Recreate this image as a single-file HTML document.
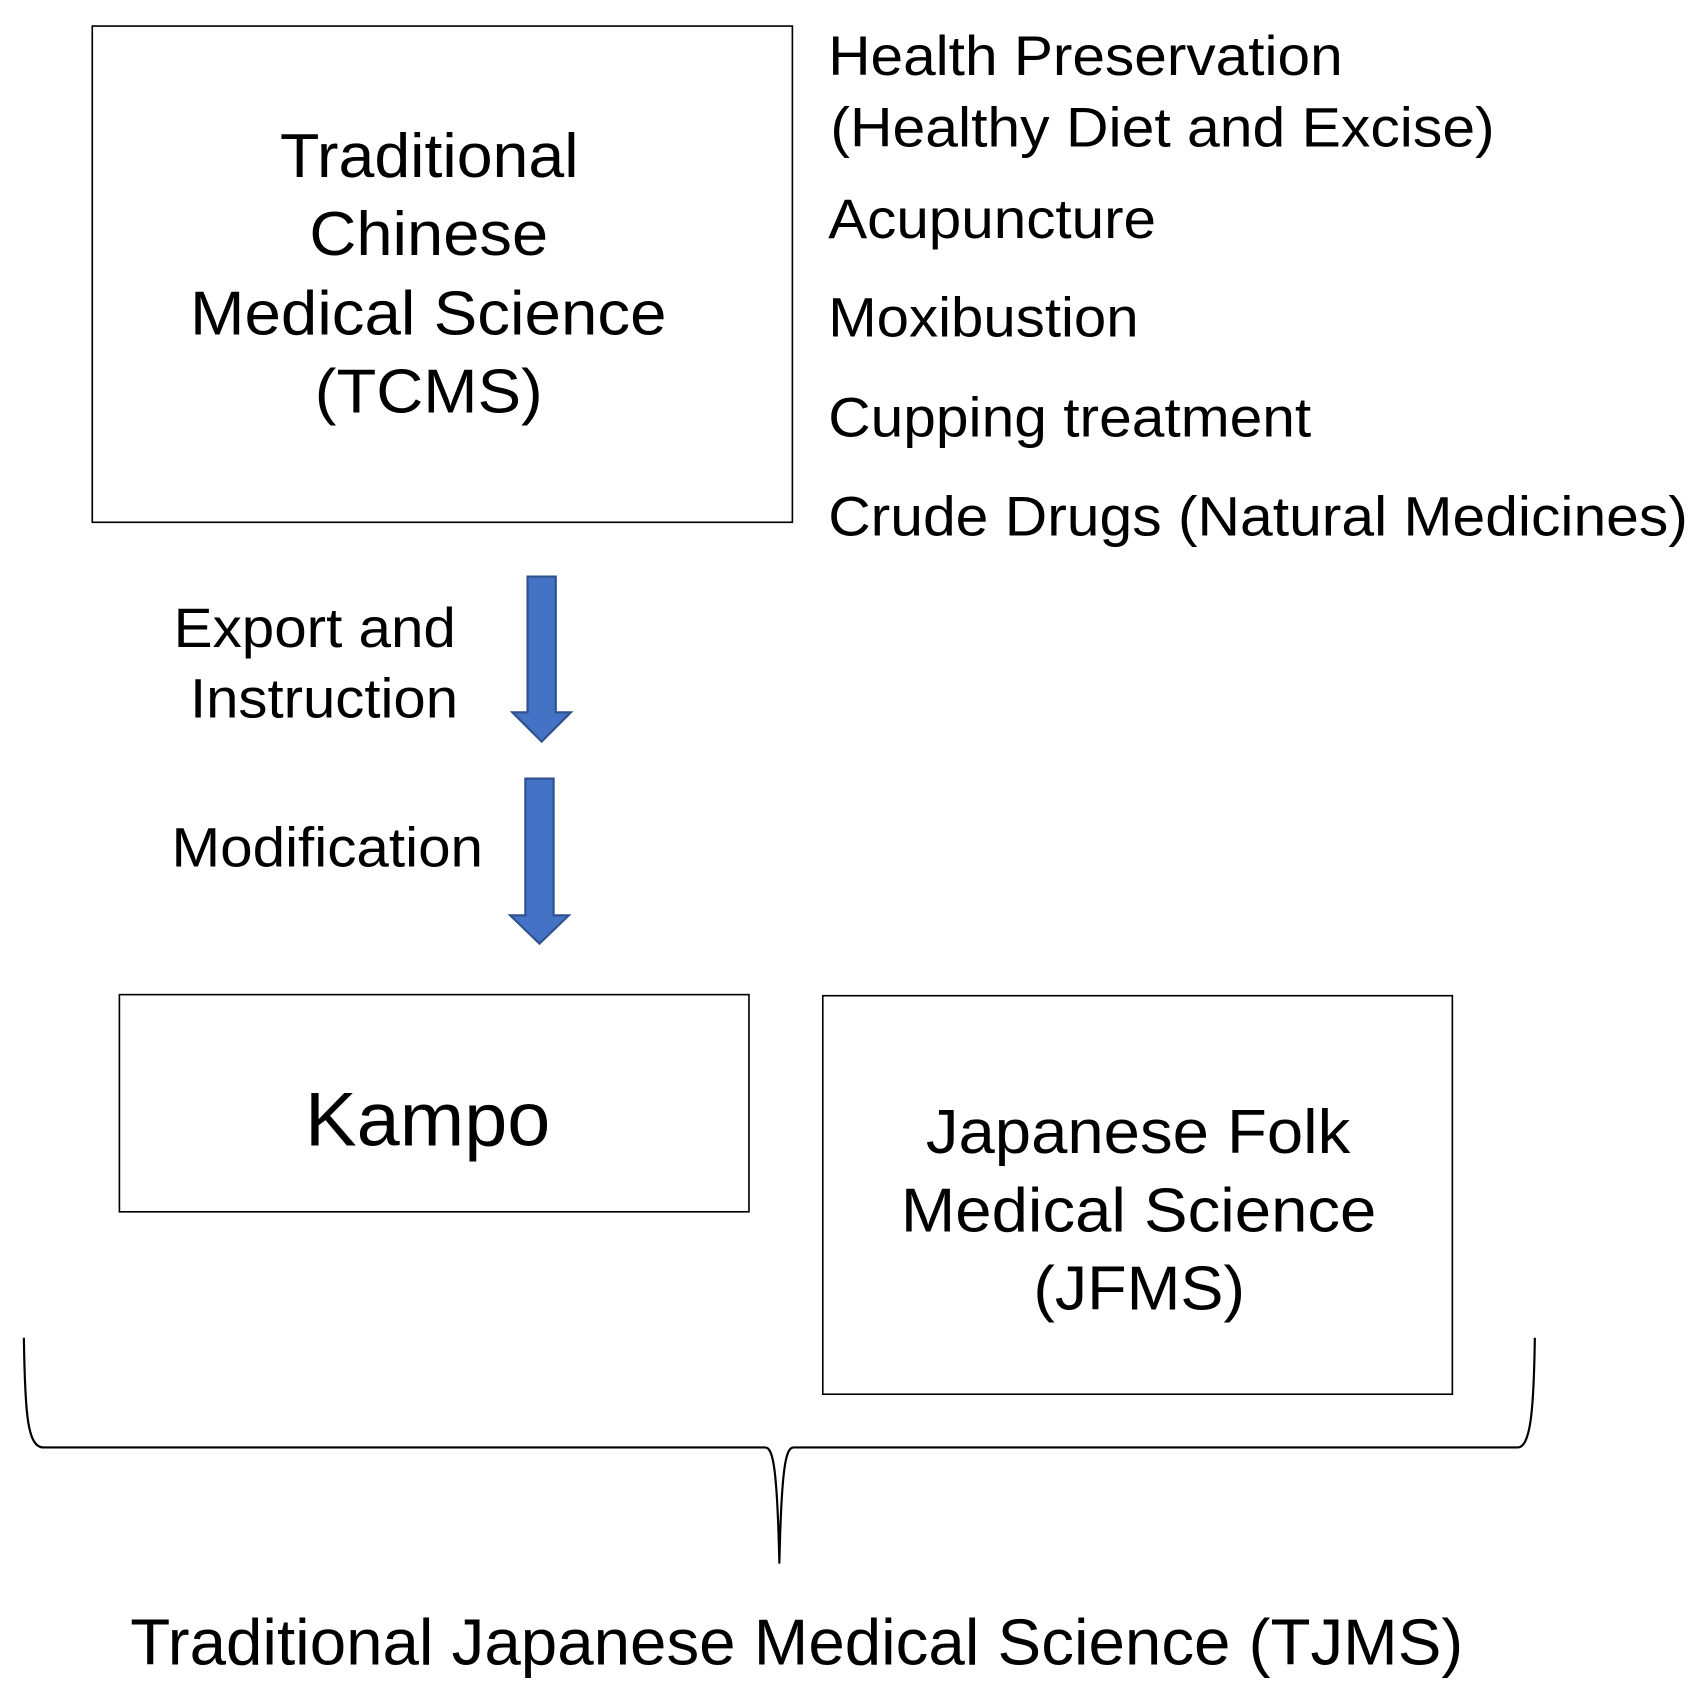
<!DOCTYPE html>
<html><head><style>html,body{margin:0;padding:0;background:#fff}svg{display:block}text{font-family:"Liberation Sans",sans-serif;fill:#000}</style></head>
<body>
<svg width="1702" height="1695" viewBox="0 0 1568 1561" preserveAspectRatio="none" xmlns="http://www.w3.org/2000/svg">
<rect x="85" y="24" width="645" height="457" fill="none" stroke="#000" stroke-width="1.5"/>
<g font-size="57" lengthAdjust="spacingAndGlyphs">
<text x="258" y="163" textLength="275" lengthAdjust="spacingAndGlyphs">Traditional</text>
<text x="285" y="235" textLength="220" lengthAdjust="spacingAndGlyphs">Chinese</text>
<text x="175" y="308" textLength="439" lengthAdjust="spacingAndGlyphs">Medical Science</text>
<text x="290" y="380" textLength="210" lengthAdjust="spacingAndGlyphs">(TCMS)</text>
</g>
<g font-size="51">
<text x="763" y="69" textLength="474" lengthAdjust="spacingAndGlyphs">Health Preservation</text>
<text x="765" y="135" textLength="612" lengthAdjust="spacingAndGlyphs">(Healthy Diet and Excise)</text>
<text x="763" y="219" textLength="302" lengthAdjust="spacingAndGlyphs">Acupuncture</text>
<text x="763" y="310" textLength="286" lengthAdjust="spacingAndGlyphs">Moxibustion</text>
<text x="763" y="402" textLength="445" lengthAdjust="spacingAndGlyphs">Cupping treatment</text>
<text x="763" y="493" textLength="792" lengthAdjust="spacingAndGlyphs">Crude Drugs (Natural Medicines)</text>
<text x="160" y="596" textLength="260" lengthAdjust="spacingAndGlyphs">Export and</text>
<text x="175" y="661" textLength="247" lengthAdjust="spacingAndGlyphs">Instruction</text>
<text x="158" y="798" textLength="287" lengthAdjust="spacingAndGlyphs">Modification</text>
</g>
<path d="M486 531 H512 V656 H526 L499 683 L472 656 H486 Z" fill="#4472C4" stroke="#2F528F" stroke-width="2"/>
<path d="M484 717 H510 V843 H524 L497 869 L470 843 H484 Z" fill="#4472C4" stroke="#2F528F" stroke-width="2"/>
<rect x="110" y="916" width="580" height="200" fill="none" stroke="#000" stroke-width="1.5"/>
<text x="281" y="1055" font-size="70" textLength="226" lengthAdjust="spacingAndGlyphs">Kampo</text>
<rect x="758" y="917" width="580" height="367" fill="none" stroke="#000" stroke-width="1.5"/>
<g font-size="57">
<text x="853" y="1062" textLength="391" lengthAdjust="spacingAndGlyphs">Japanese Folk</text>
<text x="830" y="1134" textLength="438" lengthAdjust="spacingAndGlyphs">Medical Science</text>
<text x="952" y="1206" textLength="195" lengthAdjust="spacingAndGlyphs">(JFMS)</text>
</g>
<path d="M22 1232 C23 1300 25 1333 40 1333 H705 C712 1333 716 1350 718 1440 C720 1350 724 1333 731 1333 H1398 C1410 1333 1413 1300 1414 1232" fill="none" stroke="#000" stroke-width="2"/>
<text x="120" y="1533" font-size="60" textLength="1228" lengthAdjust="spacingAndGlyphs">Traditional Japanese Medical Science (TJMS)</text>
</svg>
</body></html>
